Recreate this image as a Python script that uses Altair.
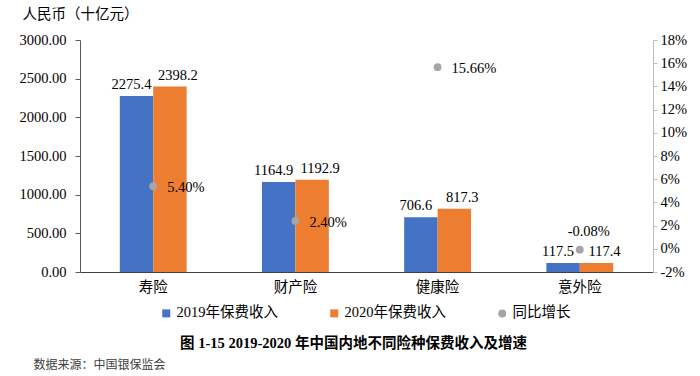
import altair as alt
import pandas as pd

categories = ["寿险", "财产险", "健康险", "意外险"]
series_names = ["2019年保费收入", "2020年保费收入", "同比增长"]
rev_2019 = [2275.4, 1164.9, 706.6, 117.5]
rev_2020 = [2398.2, 1192.9, 817.3, 117.4]
growth_pct = [5.40, 2.40, 15.66, -0.08]
left_ticks = [0, 500, 1000, 1500, 2000, 2500, 3000]
right_ticks = [-2, 0, 2, 4, 6, 8, 10, 12, 14, 16, 18]
series_colors = ["#4472C4", "#ED7D31", "#A5A5A5"]
series_shapes = ["square", "square", "circle"]

FONT = "'Liberation Serif', 'Noto Sans CJK SC', serif"

bars_df = pd.DataFrame({
    "category": categories * 2,
    "series": [series_names[0]] * 4 + [series_names[1]] * 4,
    "value": rev_2019 + rev_2020,
})
growth_df = pd.DataFrame({
    "category": categories,
    "series": [series_names[2]] * 4,
    "growth": growth_pct,
})

legend = alt.Legend(
    title=None, orient="none", legendX=79, legendY=266, direction="horizontal",
    columnPadding=49, labelFontSize=14.5, labelFont=FONT, labelColor="#000000",
    symbolSize=64, labelOffset=3, padding=0, symbolOpacity=1, symbolStrokeWidth=0,
)

x_enc = alt.X(
    "category:N", sort=categories,
    scale=alt.Scale(domain=categories, paddingInner=0.53, paddingOuter=0.28),
    axis=alt.Axis(
        title="数据来源：中国银保监会", titleFontSize=12, titleFontWeight="normal",
        titleColor="#404040", titleFont=FONT, titleX=-47, titleY=92,
        titleAlign="left", titleBaseline="middle", titleAngle=0,
        labelAngle=0, labelFontSize=14.5, labelColor="#000000", labelPadding=8,
        labelFont=FONT, ticks=False, domainColor="#404040", grid=False,
    ),
)
color_enc = alt.Color(
    "series:N", scale=alt.Scale(domain=series_names, range=series_colors), legend=legend
)
shape_enc = alt.Shape(
    "series:N", scale=alt.Scale(domain=series_names, range=series_shapes), legend=legend
)

base_bar = alt.Chart(bars_df).encode(
    x=x_enc,
    xOffset=alt.XOffset(
        "series:N", sort=series_names[:2],
        scale=alt.Scale(domain=series_names[:2], paddingInner=0, paddingOuter=0),
    ),
    y=alt.Y(
        "value:Q", scale=alt.Scale(domain=[0, 3000], nice=False),
        axis=alt.Axis(
            orient="left", values=left_ticks, format=".2f", grid=False,
            tickSize=5, labelPadding=9, domainColor="#595959", tickColor="#595959",
            labelFontSize=14.5, labelColor="#000000", labelFont=FONT,
            title="人民币（十亿元）", titleAngle=0, titleX=-58, titleY=-26,
            titleAlign="left", titleBaseline="middle", titleFontSize=14.5,
            titleFontWeight="normal", titleColor="#000000", titleFont=FONT,
        ),
    ),
)
bars = base_bar.mark_bar().encode(color=color_enc)
lab19 = base_bar.transform_filter(alt.datum.series == series_names[0]).mark_text(
    dx=-5, dy=-7, baseline="alphabetic", fontSize=14.5, font=FONT, color="#000000"
).encode(text=alt.Text("value:Q", format=".1f"))
lab20 = base_bar.transform_filter(alt.datum.series == series_names[1]).mark_text(
    dx=8, dy=-7, baseline="alphabetic", fontSize=14.5, font=FONT, color="#000000"
).encode(text=alt.Text("value:Q", format=".1f"))

base_pt = alt.Chart(growth_df).transform_calculate(
    label="replace(format(datum.growth, '.2f'), '\u2212', '-') + '%'"
).encode(
    x=x_enc,
    y=alt.Y(
        "growth:Q", scale=alt.Scale(domain=[-2, 18], nice=False),
        axis=alt.Axis(
            orient="right", values=right_ticks, labelExpr="datum.value + '%'",
            grid=False, tickSize=4, labelPadding=3, domainColor="#BFBFBF",
            tickColor="#BFBFBF", labelFontSize=14.5, labelColor="#000000",
            labelFont=FONT,
            title="图 1-15 2019-2020 年中国内地不同险种保费收入及增速",
            titleAngle=0, titleX=-300, titleY=303, titleAlign="center",
            titleBaseline="middle", titleFontSize=14.5, titleFontWeight="bold",
            titleColor="#000000", titleFont=FONT,
        ),
    ),
)
pts = base_pt.mark_point(filled=True, size=60, opacity=1).encode(
    color=color_enc, shape=shape_enc
)
pt_lab_right = base_pt.transform_filter(alt.datum.category != "意外险").mark_text(
    align="left", dx=14, dy=2, baseline="middle", fontSize=14.5, font=FONT, color="#000000"
).encode(text="label:N")
pt_lab_top = base_pt.transform_filter(alt.datum.category == "意外险").mark_text(
    align="center", dx=9, dy=-18, baseline="middle", fontSize=14.5, font=FONT, color="#000000"
).encode(text="label:N")

chart = alt.layer(
    alt.layer(bars, lab19, lab20),
    alt.layer(pts, pt_lab_right, pt_lab_top),
).resolve_scale(y="independent").properties(
    width=573, height=232,
    autosize=alt.AutoSizeParams(type="none"),
    padding={"left": 80, "top": 40, "right": 47, "bottom": 104},
).configure_view(stroke=None)

chart.save("out.html", embed_options={"renderer": "svg", "actions": False})
